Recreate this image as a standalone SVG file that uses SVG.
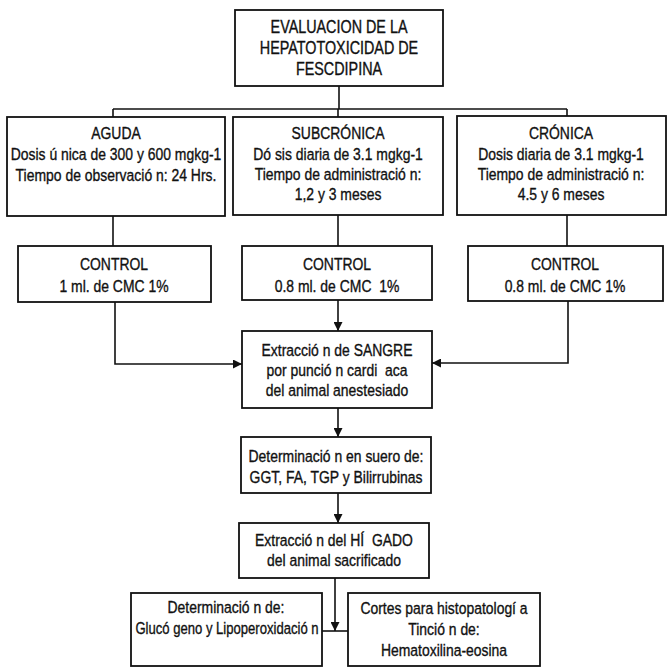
<svg xmlns="http://www.w3.org/2000/svg" width="669" height="670" viewBox="0 0 669 670">
<style>
  .box { fill: #ffffff; stroke: #111111; stroke-width: 1.8; }
  .t { font-family: "Liberation Sans", Arial, sans-serif; font-size: 17px; fill: #111111; stroke: #111111; stroke-width: 0.35; text-anchor: middle; white-space: pre; }
  .big { font-size: 17.5px; }
  .c { fill: none; stroke: #111111; stroke-width: 1.6; }
</style>
<defs>
  <marker id="arr" viewBox="0 0 10 10" refX="10" refY="5" markerWidth="9" markerHeight="9" markerUnits="userSpaceOnUse" orient="auto">
    <path d="M0,0 L10,5 L0,10 Z" fill="#111111"/>
  </marker>
</defs>
<rect width="669" height="670" fill="#ffffff"/>

<g id="connectors">
  <path class="c" d="M339,86 V109"/>
  <path class="c" d="M113,109 H567"/>
  <path class="c" d="M113,109 V117"/>
  <path class="c" d="M338,109 V117"/>
  <path class="c" d="M567,109 V116"/>
  <path class="c" d="M113,216 V246"/>
  <path class="c" d="M338,215 V246"/>
  <path class="c" d="M567,215 V246"/>
  <path class="c" d="M338,300 V331" marker-end="url(#arr)"/>
  <path class="c" d="M115,302 V364 H242" marker-end="url(#arr)"/>
  <path class="c" d="M568,301 V363 H432" marker-end="url(#arr)"/>
  <path class="c" d="M338,408 V437" marker-end="url(#arr)"/>
  <path class="c" d="M338,493 V523" marker-end="url(#arr)"/>
  <path class="c" d="M335,578 V631" marker-end="url(#arr)"/>
  <path class="c" d="M322,631 H348"/>
</g>

<g id="n-title">
  <rect class="box" x="235" y="10" width="208" height="76"/>
  <text class="t big" transform="translate(339,33) scale(0.82,1)">EVALUACION DE LA</text>
  <text class="t big" transform="translate(339,54) scale(0.82,1)">HEPATOTOXICIDAD DE</text>
  <text class="t big" transform="translate(339,75) scale(0.82,1)">FESCDIPINA</text>
</g>

<g id="n-aguda">
  <rect class="box" x="7" y="117" width="218" height="99"/>
  <text class="t" transform="translate(116,139) scale(0.82,1)">AGUDA</text>
  <text class="t" transform="translate(116,160) scale(0.82,1)">Dosis ú nica de 300 y 600 mgkg-1</text>
  <text class="t" transform="translate(116,181) scale(0.82,1)">Tiempo de observació n: 24 Hrs.</text>
</g>

<g id="n-subcronica">
  <rect class="box" x="233" y="117" width="210" height="98"/>
  <text class="t" transform="translate(338,139) scale(0.82,1)">SUBCRÓNICA</text>
  <text class="t" transform="translate(338,160) scale(0.82,1)">Dó sis diaria de 3.1 mgkg-1</text>
  <text class="t" transform="translate(338,180) scale(0.82,1)">Tiempo de administració n:</text>
  <text class="t" transform="translate(338,200) scale(0.82,1)">1,2 y 3 meses</text>
</g>

<g id="n-cronica">
  <rect class="box" x="457" y="116" width="209" height="99"/>
  <text class="t" transform="translate(561,139) scale(0.82,1)">CRÓNICA</text>
  <text class="t" transform="translate(561,160) scale(0.82,1)">Dosis diaria de 3.1 mgkg-1</text>
  <text class="t" transform="translate(561,180) scale(0.82,1)">Tiempo de administració n:</text>
  <text class="t" transform="translate(561,200) scale(0.82,1)">4.5 y 6 meses</text>
</g>

<g id="n-control1">
  <rect class="box" x="18" y="246" width="193" height="56"/>
  <text class="t" transform="translate(114,270) scale(0.82,1)">CONTROL</text>
  <text class="t" transform="translate(114,292) scale(0.82,1)">1 ml. de CMC 1%</text>
</g>

<g id="n-control2">
  <rect class="box" x="242" y="246" width="190" height="54"/>
  <text class="t" transform="translate(337,270) scale(0.82,1)">CONTROL</text>
  <text class="t" transform="translate(337,292) scale(0.82,1)">0.8 ml. de CMC  1%</text>
</g>

<g id="n-control3">
  <rect class="box" x="468" y="246" width="195" height="55"/>
  <text class="t" transform="translate(565,270) scale(0.82,1)">CONTROL</text>
  <text class="t" transform="translate(565,292) scale(0.82,1)">0.8 ml. de CMC 1%</text>
</g>

<g id="n-sangre">
  <rect class="box" x="242" y="331" width="190" height="77"/>
  <text class="t" transform="translate(337,356) scale(0.82,1)">Extracció n de SANGRE</text>
  <text class="t" transform="translate(337,376) scale(0.82,1)">por punció n cardi  aca</text>
  <text class="t" transform="translate(337,396) scale(0.82,1)">del animal anestesiado</text>
</g>

<g id="n-suero">
  <rect class="box" x="241" y="437" width="190" height="56"/>
  <text class="t" transform="translate(336,462) scale(0.82,1)">Determinació n en suero de:</text>
  <text class="t" transform="translate(336,483) scale(0.82,1)">GGT, FA, TGP y Bilirrubinas</text>
</g>

<g id="n-higado">
  <rect class="box" x="239" y="523" width="190" height="55"/>
  <text class="t" transform="translate(334,546) scale(0.82,1)">Extracció n del HÍ  GADO</text>
  <text class="t" transform="translate(334,566) scale(0.82,1)">del animal sacrificado</text>
</g>

<g id="n-glucogeno">
  <rect class="box" x="131" y="593" width="191" height="73"/>
  <text class="t" transform="translate(226,613) scale(0.82,1)">Determinació n de:</text>
  <text class="t" transform="translate(227,634) scale(0.77,1)">Glucó geno y Lipoperoxidació n</text>
</g>

<g id="n-cortes">
  <rect class="box" x="348" y="593" width="192" height="73"/>
  <text class="t" transform="translate(444,614) scale(0.82,1)">Cortes para histopatologí a</text>
  <text class="t" transform="translate(444,635) scale(0.82,1)">Tinció n de:</text>
  <text class="t" transform="translate(444,656) scale(0.82,1)">Hematoxilina-eosina</text>
</g>
</svg>
